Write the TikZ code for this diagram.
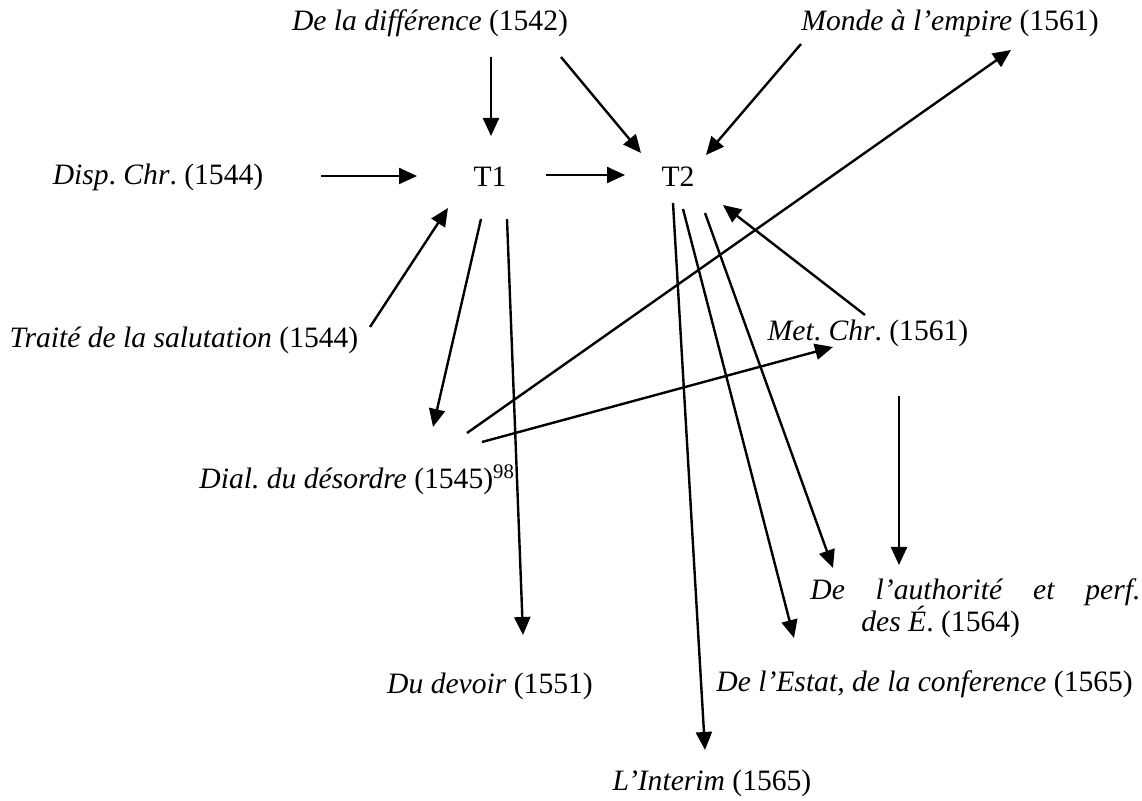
\documentclass[tikz,border=0pt]{standalone}
\usepackage{fontspec}
\setmainfont{Liberation Serif}
\usepackage{tikz}
\usetikzlibrary{arrows.meta, positioning, calc}
\frenchspacing

\begin{document}
\begin{tikzpicture}[x=0.5pt, y=-0.5pt,
    every node/.style={font=\fontsize{14.8}{16}\selectfont, inner sep=0pt},
    arr/.style={line width=1.2pt, -{Triangle[length=9pt, width=8pt]}}]
  \useasboundingbox (0,0) rectangle (1142,801);

  % works
  \node (diff) at (430,23) {\textit{De la différence} (1542)};
  \node (monde) at (950,23) {\textit{Monde à l’empire} (1561)};
  \node (disp) at (158,177) {\textit{Disp}. \textit{Chr}. (1544)};
  \node (t1) at (490,177) {T1};
  \node (t2) at (678,177) {T2};
  \node (salut) at (184,340) {\textit{Traité de la salutation} (1544)};
  \node (met) at (868,333) {\textit{Met}. \textit{Chr}. (1561)};
  \node [anchor=west] (dial) at (199,480) {\textit{Dial. du désordre} (1545)\textsuperscript{98}};
  \node (devoir) at (490,686) {\textit{Du devoir} (1551)};
  \node [anchor=west] (estat) at (716,684) {\textit{De l’Estat, de la conference} (1565)};
  \node [anchor=north west, align=left] (auth) at (810,578)
    {\hbox to 165pt{\itshape De\hfill l’authorité\hfill et\hfill perf.}\\
     \hspace*{25.5pt}\textit{des É}. (1564)};
  \node (interim) at (712,783) {\textit{L’Interim} (1565)};

  % arrow ends
  \coordinate (diffA) at (491,57);   \coordinate (t1N) at (491,136);
  \coordinate (diffB) at (561,57);   \coordinate (t2NW) at (641,153);
  \coordinate (mondeA) at (801,44);  \coordinate (t2NE) at (706,155);
  \coordinate (dispE) at (321,176);  \coordinate (t1W) at (417,176);
  \coordinate (t1E) at (546,175);    \coordinate (t2W) at (625,175);
  \coordinate (salutA) at (370,327); \coordinate (t1SW) at (448,208);
  \coordinate (t1SA) at (481,219);   \coordinate (dialN) at (433,427);
  \coordinate (t1SB) at (507,219);   \coordinate (devoirN) at (523,635);
  \coordinate (dialA) at (467,433);  \coordinate (mondeS) at (1011,50);
  \coordinate (dialB) at (482,442);  \coordinate (metW) at (833,347);
  \coordinate (metA) at (865,315);   \coordinate (t2SE) at (723,205);
  \coordinate (metB) at (899,396);   \coordinate (authN) at (899,565);
  \coordinate (t2SA) at (673,203);   \coordinate (interimN) at (705,750);
  \coordinate (t2SB) at (683,209);   \coordinate (estatN) at (794,638);
  \coordinate (t2SC) at (705,213);   \coordinate (authNW) at (833,568);

  \draw [arr] (diffA) -- (t1N);
  \draw [arr] (diffB) -- (t2NW);
  \draw [arr] (mondeA) -- (t2NE);
  \draw [arr] (dispE) -- (t1W);
  \draw [arr] (t1E) -- (t2W);
  \draw [arr] (salutA) -- (t1SW);
  \draw [arr] (t1SA) -- (dialN);
  \draw [arr] (t1SB) -- (devoirN);
  \draw [arr] (dialA) -- (mondeS);
  \draw [arr] (dialB) -- (metW);
  \draw [arr] (metA) -- (t2SE);
  \draw [arr] (metB) -- (authN);
  \draw [arr] (t2SA) -- (interimN);
  \draw [arr] (t2SB) -- (estatN);
  \draw [arr] (t2SC) -- (authNW);
\end{tikzpicture}
\end{document}
